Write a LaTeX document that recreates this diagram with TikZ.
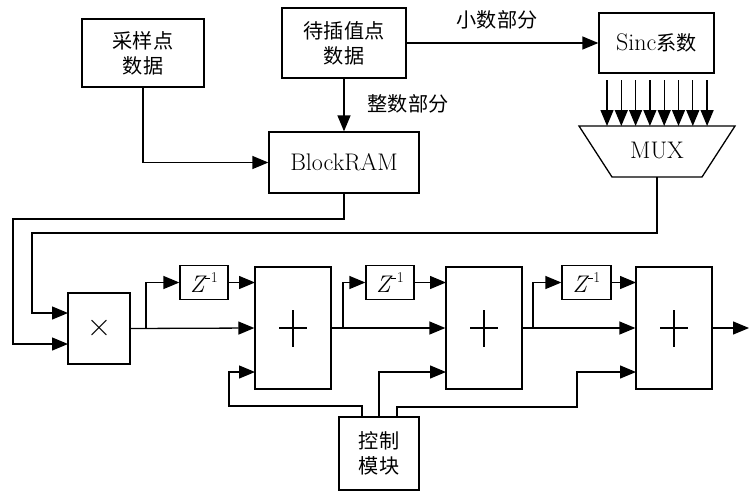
\documentclass[tikz,border=0pt]{standalone}
\usepackage{fontspec}
\newfontfamily\cjk{Noto Sans CJK SC}[Scale=0.84]
\usetikzlibrary{arrows.meta}
\newcommand{\zinv}{{\itshape Z}\kern0.5pt\raisebox{0.40em}{\fontsize{15}{15}\selectfont\rule[0.25em]{0.35em}{1.4pt}\kern0.5pt 1}}
\begin{document}
\begin{tikzpicture}[x=1pt,y=-1pt,
  txt/.style={font=\fontsize{24}{25}\selectfont, inner sep=0pt, align=center},
  box/.style={txt, draw, line width=1.3pt},
  ln/.style={line width=1.3pt},
  ar/.style={ln, -{Triangle[length=16pt,width=13pt]}},
  zbox/.style={box, minimum width=48pt, minimum height=34pt},
  addbox/.style={box, minimum width=76pt, minimum height=122pt},
]
\useasboundingbox (0,0) rectangle (749,491);
% top blocks
\node[box, minimum width=122pt, minimum height=68pt] (samp) at (143,53) {{\cjk 采样点}\\{\cjk 数据}};
\node[box, minimum width=124pt, minimum height=70pt] (interp) at (344,43) {{\cjk 待插值点}\\{\cjk 数据}};
\node[box, minimum width=150pt, minimum height=61pt] (bram) at (344,162.5) {BlockRAM};
\node[box, minimum width=115pt, minimum height=60pt] (sinc) at (656.5,43) {Sinc{\cjk 系数}};
% MUX
\draw[ln] (579,126) -- (735,126) -- (702,177) -- (612,177) -- cycle;
\node[txt] (mux) at (657,150) {MUX};
\coordinate (muxout) at (657,177);
\foreach \i in {0,...,7}{
  \coordinate (s\i) at ({607+14.3*\i},80);
  \coordinate (m\i) at ({607+14.3*\i},126);
  \draw[ar] (s\i) -- (m\i);
}
% labels
\node[txt] (lbl1) at (497,20) {\cjk 小数部分};
\node[txt] (lbl2) at (408,104) {\cjk 整数部分};
% top connectors
\draw[ar] (interp.east) -- (sinc.west);
\draw[ar] (interp.south) -- (bram.north);
\draw[ar] (samp.south) |- (bram.west);
% pipeline
\node[box, minimum width=62pt, minimum height=71pt] (mult) at (99,328.5) {};
\node[font=\fontsize{34}{34}\selectfont, inner sep=0pt] (multsym) at (mult.center) {×};
\coordinate (mi1) at (68,313);
\coordinate (mi2) at (68,344);
\draw[ar] (bram.south) -- (344,219) -- (13,219) -- (13,344) -- (mi2);
\draw[ar] (muxout) -- (657,233) -- (32,233) -- (32,313) -- (mi1);

\node[zbox] (z1) at (204,282.5) {\zinv};
\node[zbox] (z2) at (390,282.5) {\zinv};
\node[zbox, minimum width=49pt] (z3) at (586.5,282.5) {\zinv};
\node[addbox] (add1) at (293,328) {};
\node[addbox] (add2) at (484,328) {};
\node[addbox] (add3) at (674,328) {};
\foreach \n in {add1,add2,add3}{
  \draw[ln] ([yshift=-18.5pt]\n.center) -- ([yshift=18.5pt]\n.center);
  \draw[ln] ([xshift=-14pt]\n.center) -- ([xshift=14pt]\n.center);
}
\coordinate (a1t) at (255,282.5); \coordinate (a1b) at (255,372);
\coordinate (a2t) at (446,282.5); \coordinate (a2b) at (446,372);
\coordinate (a3t) at (636,282.5); \coordinate (a3b) at (636,372);
\coordinate (b1) at (146,328); \coordinate (b2) at (343,328); \coordinate (b3) at (533,328);
\coordinate (out) at (749,328);

\draw[ar] (mult.east) -- (add1.west);
\draw[ar] (b1) |- (z1.west);
\draw[ar] (z1.east) -- (a1t);
\draw[ar] (add1.east) -- (add2.west);
\draw[ar] (b2) |- (z2.west);
\draw[ar] (z2.east) -- (a2t);
\draw[ar] (add2.east) -- (add3.west);
\draw[ar] (b3) |- (z3.west);
\draw[ar] (z3.east) -- (a3t);
\draw[ar] (add3.east) -- (out);

% control
\node[box, minimum width=80pt, minimum height=73pt] (ctrl) at (379,453.5) {{\cjk 控制}\\{\cjk 模块}};
\coordinate (c1) at (362,417); \coordinate (c2) at (379,417); \coordinate (c3) at (397,417);
\draw[ar] (c1) -- (362,406) -- (229,406) -- (229,372) -- (a1b);
\draw[ar] (c2) |- (a2b);
\draw[ar] (c3) -- (397,407) -- (577,407) -- (577,372) -- (a3b);
\end{tikzpicture}
\end{document}
